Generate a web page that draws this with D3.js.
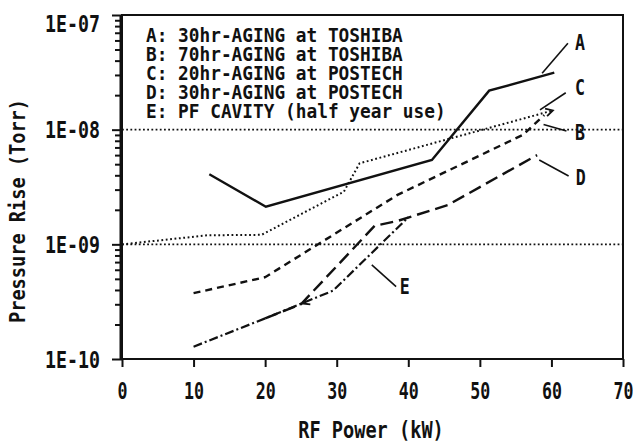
<!DOCTYPE html>
<html>
<head>
<meta charset="utf-8">
<script src="https://cdn.jsdelivr.net/npm/d3@7"></script>
<style>
  body { margin: 0; background: #fff; }
  text { font-family: "DejaVu Sans Mono", monospace; font-weight: bold; fill: #111; }
</style>
</head>
<body>
<svg id="chart" width="633" height="445"></svg>
<script>
// dados: [potência RF (kW), subida de pressão (Torr)]
var serieA = [[12.2, 4.08e-9], [20.1, 2.13e-9], [43.3, 5.44e-9], [51.3, 2.19e-8], [60.4, 3.14e-8]];
var serieB = [[0, 1.0e-9], [12, 1.2e-9], [19.5, 1.21e-9], [31, 2.88e-9], [33.2, 5.09e-9], [60.2, 1.47e-8]];
var serieC = [[10, 3.75e-10], [20, 5.17e-10], [38.5, 2.7e-9], [56, 9.0e-9], [59, 1.34e-8]];
var serieD = [[20, 2.26e-10], [25, 3.0e-10], [35.3, 1.45e-9], [38.5, 1.6e-9], [45.5, 2.2e-9], [58, 6.0e-9]];
var serieE = [[10, 1.28e-10], [20, 2.26e-10], [29.5, 3.95e-10], [40, 1.72e-9]];

var legenda = [
  "A: 30hr-AGING at TOSHIBA",
  "B: 70hr-AGING at TOSHIBA",
  "C: 20hr-AGING at POSTECH",
  "D: 30hr-AGING at POSTECH",
  "E: PF CAVITY (half year use)"
];

var xTicks = [0, 10, 20, 30, 40, 50, 60, 70];
var yTicks = [1e-10, 1e-9, 1e-8, 1e-7];
var yTickLabels = ["1E-10", "1E-09", "1E-08", "1E-07"];
var linhasGrade = [1e-9, 1e-8];

// rótulos das curvas: letra, posição do texto e da linha guia (em kW / Torr)
var rotulos = [
  { nome: "A", at: [64.0, 5.73e-8], guia: [[62.3, 5.67e-8], [58.7, 3.10e-8]] },
  { nome: "C", at: [64.0, 2.31e-8], guia: [[62.0, 2.10e-8], [58.4, 1.49e-8]] },
  { nome: "B", at: [64.0, 9.36e-9], guia: [[62.1, 9.74e-9], [58.9, 1.11e-8]] },
  { nome: "D", at: [64.1, 3.79e-9], guia: [[62.4, 3.95e-9], [58.3, 5.44e-9]] },
  { nome: "E", at: [39.5, 4.28e-10], guia: [[38.3, 4.28e-10], [34.9, 6.61e-10]] }
];

var svg = d3.select("#chart");
var x = d3.scaleLinear().domain([0, 70]).range([122, 623]);
var y = d3.scaleLog().domain([1e-10, 1e-7]).range([359, 15]);

// estreita o texto como na fonte do original
function estreitar(sel, passo) {
  sel.attr("textLength", function () { return this.textContent.length * passo; })
     .attr("lengthAdjust", "spacingAndGlyphs");
}

// linhas pontilhadas de referência
svg.selectAll(".grade")
  .data(linhasGrade)
  .enter()
  .append("line")
  .attr("x1", x(0)).attr("x2", x(70))
  .attr("y1", function (d) { return y(d); })
  .attr("y2", function (d) { return y(d); })
  .attr("stroke", "#111")
  .attr("stroke-width", 1.8)
  .attr("stroke-dasharray", "1.8,2.4");

// moldura
svg.append("rect")
  .attr("x", x(0)).attr("y", y(1e-7))
  .attr("width", x(70) - x(0)).attr("height", y(1e-10) - y(1e-7))
  .attr("fill", "none").attr("stroke", "#111").attr("stroke-width", 2);
svg.append("line")
  .attr("x1", x(0) - 1).attr("x2", x(0) - 1)
  .attr("y1", y(1e-7)).attr("y2", y(1e-10))
  .attr("stroke", "#111").attr("stroke-width", 3);

// eixo x
var eixoX = svg.append("g")
  .attr("transform", "translate(0," + y(1e-10) + ")")
  .call(d3.axisBottom(x).tickValues(xTicks).tickSize(8).tickFormat(d3.format("d")));
eixoX.select(".domain").remove();
eixoX.selectAll("line").attr("stroke", "#111").attr("stroke-width", 2);
eixoX.selectAll("text")
  .attr("y", 39.5).attr("dy", null)
  .style("font-size", "23px").style("font-family", null);
estreitar(eixoX.selectAll("text"), 10);

// eixo y (décadas)
var eixoY = svg.append("g")
  .attr("transform", "translate(" + x(0) + ",0)")
  .call(d3.axisLeft(y).tickValues(yTicks).tickSize(10)
    .tickFormat(function (d, i) { return yTickLabels[i]; }));
eixoY.select(".domain").remove();
eixoY.selectAll("line").attr("stroke", "#111").attr("stroke-width", 2);
eixoY.selectAll("text")
  .attr("x", -22)
  .attr("y", function (d) { return d === 1e-7 ? 16.5 : 8.3; })
  .attr("dy", null)
  .style("font-size", "23px").style("font-family", null);
estreitar(eixoY.selectAll("text"), 11);

// marcas menores do eixo logarítmico
var menores = [];
yTicks.slice(0, 3).forEach(function (dec) {
  for (var k = 2; k <= 9; k++) menores.push(dec * k);
});
var eixoYm = svg.append("g")
  .attr("transform", "translate(" + x(0) + ",0)")
  .call(d3.axisLeft(y).tickValues(menores).tickSize(7).tickFormat(""));
eixoYm.select(".domain").remove();
eixoYm.selectAll("line").attr("stroke", "#111").attr("stroke-width", 2);

// títulos dos eixos
var tx = svg.append("text")
  .attr("x", 371).attr("y", 438)
  .attr("text-anchor", "middle")
  .style("font-size", "23px")
  .text("RF Power (kW)");
estreitar(tx, 11.2);

var ty = svg.append("text")
  .attr("transform", "translate(25,211) rotate(-90)")
  .attr("text-anchor", "middle")
  .style("font-size", "21px")
  .text("Pressure Rise (Torr)");
estreitar(ty, 11.2);

// curvas
var linha = d3.line()
  .x(function (d) { return x(d[0]); })
  .y(function (d) { return y(d[1]); });

var series = [
  { dados: serieA, traco: null, largura: 2.4 },
  { dados: serieB, traco: "1.8,2.6", largura: 2 },
  { dados: serieC, traco: "7,5", largura: 2.4 },
  { dados: serieD, traco: "13,6", largura: 2.4 },
  { dados: serieE, traco: "9,3,2,3", largura: 2.2 }
];

svg.selectAll(".serie")
  .data(series)
  .enter()
  .append("path")
  .attr("class", "serie")
  .attr("d", function (d) { return linha(d.dados); })
  .attr("fill", "none")
  .attr("stroke", "#111")
  .attr("stroke-width", function (d) { return d.largura; })
  .attr("stroke-dasharray", function (d) { return d.traco; });

// pontas de seta (B no fim, E no trecho inicial)
function seta(p0, p1) {
  var x0 = x(p0[0]), y0 = y(p0[1]), x1 = x(p1[0]), y1 = y(p1[1]);
  var ang = Math.atan2(y1 - y0, x1 - x0), L = 8, a = 0.5;
  var pa = [x1 - L * Math.cos(ang - a), y1 - L * Math.sin(ang - a)];
  var pb = [x1 - L * Math.cos(ang + a), y1 - L * Math.sin(ang + a)];
  svg.append("path")
    .attr("d", "M" + pa + "L" + x1 + "," + y1 + "L" + pb)
    .attr("fill", "none").attr("stroke", "#111").attr("stroke-width", 1.8);
}
seta(serieB[4], serieB[5]);
seta(serieE[2], [25.2, 3.05e-10]);

// legenda num único bloco de texto, uma linha por tspan
var leg = svg.append("text")
  .style("font-size", "20px");
var linhasLeg = leg.selectAll("tspan")
  .data(legenda)
  .enter()
  .append("tspan")
  .attr("x", 146)
  .attr("y", function (d, i) { return 41.5 + i * 19.1; })
  .text(function (d) { return d; });
estreitar(linhasLeg, 10.7);

// rótulos A–E com linha guia
svg.selectAll(".guia")
  .data(rotulos)
  .enter()
  .append("line")
  .attr("x1", function (d) { return x(d.guia[0][0]); })
  .attr("y1", function (d) { return y(d.guia[0][1]); })
  .attr("x2", function (d) { return x(d.guia[1][0]); })
  .attr("y2", function (d) { return y(d.guia[1][1]); })
  .attr("stroke", "#111").attr("stroke-width", 1.6);

var rot = svg.selectAll(".rot")
  .data(rotulos)
  .enter()
  .append("text")
  .attr("x", function (d) { return x(d.at[0]); })
  .attr("y", function (d) { return y(d.at[1]) + 7.5; })
  .attr("text-anchor", "middle")
  .style("font-size", "21px")
  .text(function (d) { return d.nome; });
estreitar(rot, 10);
</script>
</body>
</html>
